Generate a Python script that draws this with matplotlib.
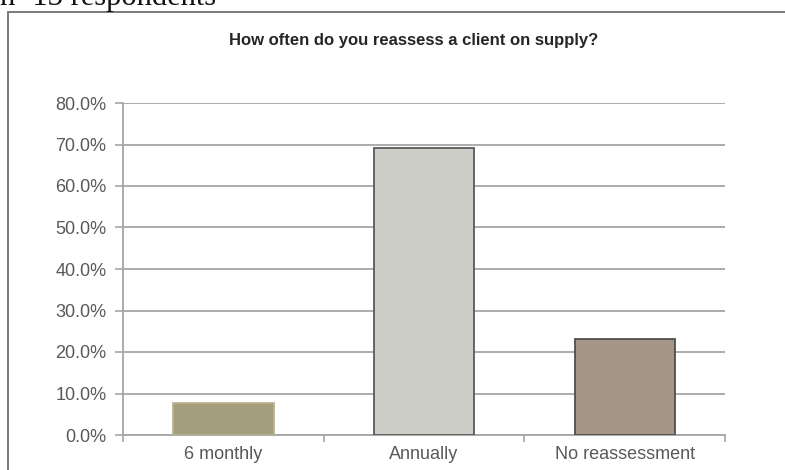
import matplotlib
matplotlib.use("Agg")
import matplotlib.pyplot as plt
from matplotlib.patches import Rectangle
from matplotlib.ticker import FuncFormatter

# data (n=13)
categories = ["6 monthly", "Annually", "No reassessment"]
shares = [7.7, 69.2, 23.1]
bar_colors = ["#a59e7c", "#cdcdc8", "#a69688"]
edge_colors = ["#b8b290", "#5a5a5a", "#505050"]
yticks = [0, 10, 20, 30, 40, 50, 60, 70, 80]

fig = plt.figure(figsize=(7.85, 4.7), dpi=100)
fig.patch.set_facecolor("white")

# outer chart frame (runs off the right and bottom of the crop)
frame = Rectangle((8 / 785, -0.05), 1.0, 0.05 + 1 - 12 / 470,
                  transform=fig.transFigure, fill=False,
                  edgecolor="#7a7a7a", linewidth=1.4, clip_on=False)
fig.patches.append(frame)

# caption above the frame, mostly cut off
fig.text(0.0, 1 - 5 / 470, "n=13 respondents", family="Liberation Serif",
         fontsize=22, color="#111111", ha="left", va="baseline")

ax = fig.add_axes([123 / 785, 35 / 470, 602 / 785, 332 / 470])
x = range(len(categories))
ax.bar(x, shares, width=0.5, color=bar_colors, edgecolor=edge_colors,
       linewidth=1.3, zorder=3)

ax.set_xlim(-0.5, 2.5)
ax.set_ylim(0, 80)
ax.set_yticks(yticks)
ax.yaxis.set_major_formatter(FuncFormatter(lambda v, p: f"{v:.1f}%"))
ax.grid(axis="y", color="#a6a6a6", linewidth=1.3, zorder=0)

ax.set_xticks(list(x))
ax.set_xticklabels(categories)
ax.set_xticks([-0.5, 0.5, 1.5, 2.5], minor=True)
ax.tick_params(axis="x", which="major", length=0, pad=8)
ax.tick_params(axis="x", which="minor", length=5, width=1.2, color="#a6a6a6")
ax.tick_params(axis="y", length=6, width=1.2, color="#a6a6a6", pad=6)
ax.tick_params(labelsize=13, labelcolor="#595959")
for lab in ax.get_xticklabels() + ax.get_yticklabels():
    lab.set_family("Liberation Sans")

for side in ["top", "right"]:
    ax.spines[side].set_visible(False)
for side in ["left", "bottom"]:
    ax.spines[side].set_color("#a6a6a6")
    ax.spines[side].set_linewidth(1.3)

fig.text(414 / 785, 1 - 40 / 470, "How often do you reassess a client on supply?",
         family="Liberation Sans", fontweight="bold", fontsize=12,
         color="#262626", ha="center", va="center")

fig.savefig("out.png", dpi=100)
